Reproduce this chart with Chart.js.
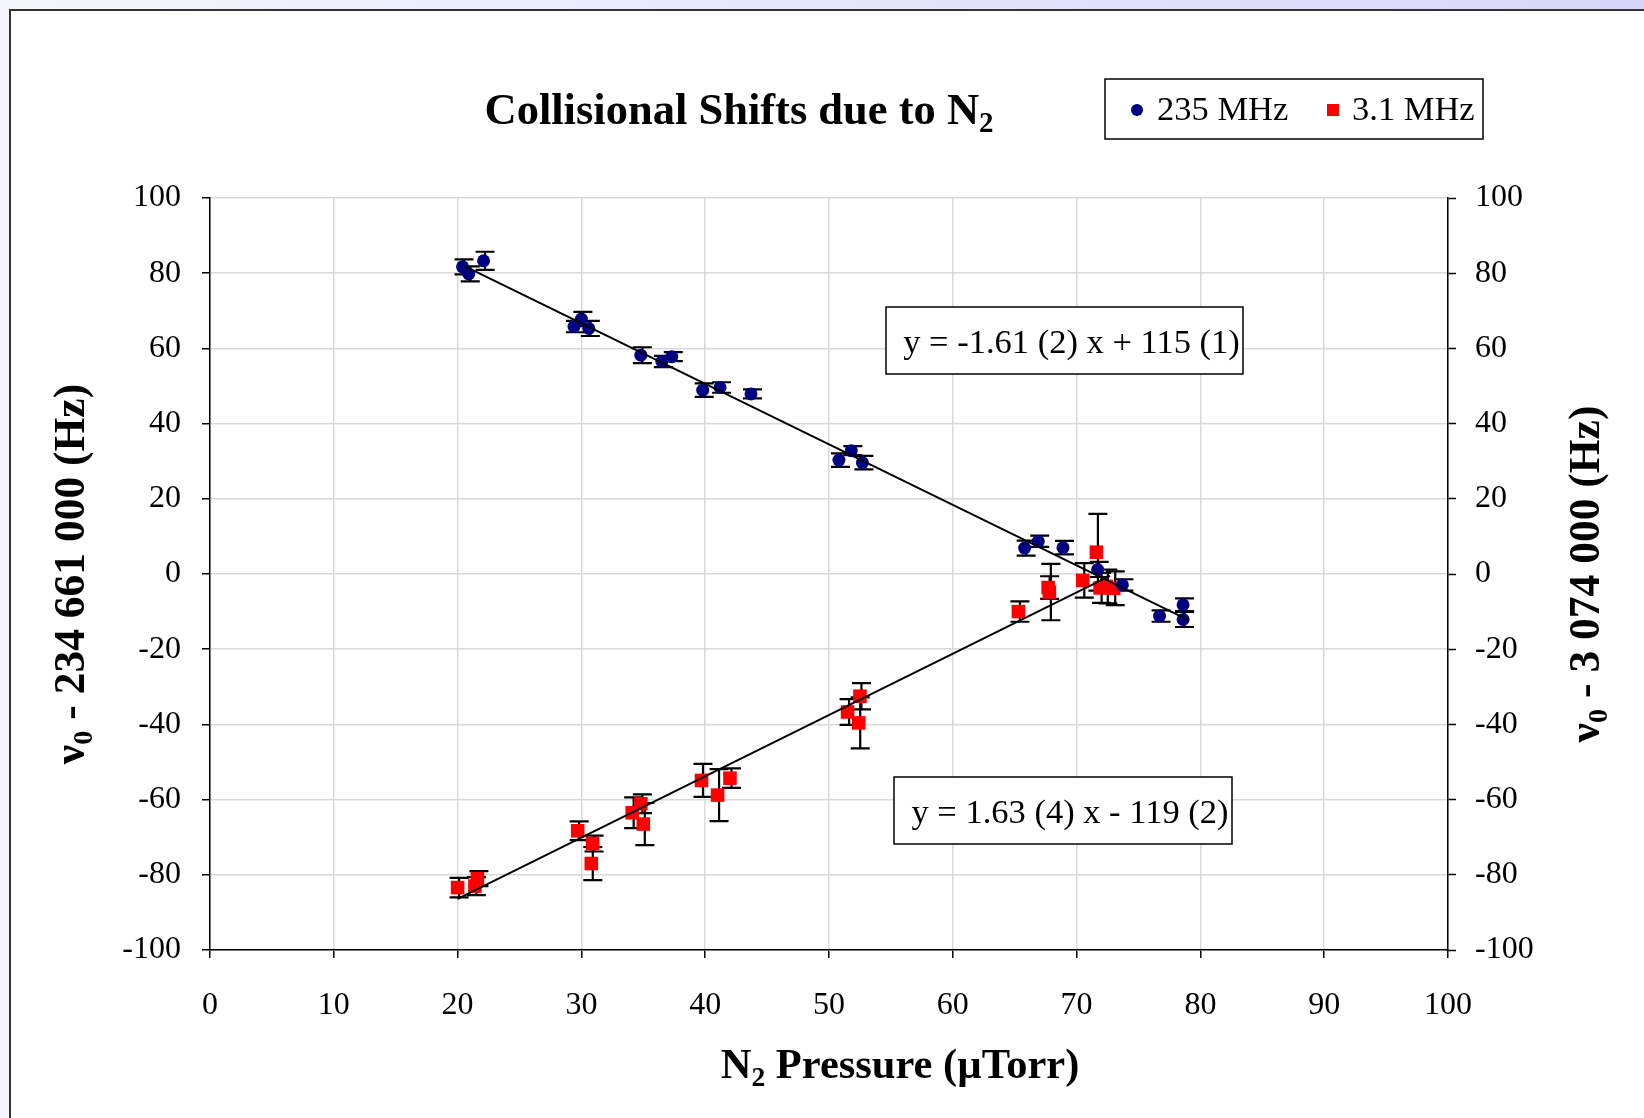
<!DOCTYPE html>
<html>
<head>
<meta charset="utf-8">
<script src="https://cdn.jsdelivr.net/npm/chart.js@4.4.0/dist/chart.umd.min.js"></script>
<style>
  html, body { margin: 0; padding: 0; overflow: hidden; background: #ffffff; }
  #c { position: absolute; left: 0; top: 0; }
</style>
</head>
<body>
<canvas id="c" width="1644" height="1118"></canvas>
<script>
// N2 pressure (µTorr) and frequency offsets (Hz) for the two transitions
const blueX   = [20.4, 20.9, 22.1, 29.4, 30.0, 30.6, 34.8, 36.5, 37.3, 39.8, 41.2, 43.7, 50.8, 51.8, 52.7, 65.8, 66.9, 68.9, 71.7, 73.7, 76.7, 78.6, 78.6];
const blueY   = [81.7, 79.8, 83.3, 65.8, 67.8, 65.3, 58.2, 56.5, 57.8, 48.9, 49.6, 47.9, 30.3, 32.8, 29.6, 6.9, 8.7, 7.0, 1.2, -2.9, -11.2, -8.2, -12.1];
const blueErr = [2.0, 2.0, 2.4, 1.5, 1.9, 2.0, 2.1, 1.5, 1.2, 1.8, 1.4, 1.2, 1.8, 1.2, 1.8, 2.0, 1.5, 1.8, 2.0, 1.5, 1.5, 1.7, 2.0];

const redX   = [20.0, 21.4, 21.6, 29.7, 30.9, 30.8, 34.1, 34.8, 35.0, 39.7, 41.0, 42.0, 51.5, 52.5, 52.4, 65.3, 67.7, 67.8, 70.5, 71.6, 71.9, 72.4, 73.0];
const redY   = [-83.4, -83.0, -81.0, -68.3, -71.7, -77.0, -63.5, -61.1, -66.5, -54.9, -58.8, -54.3, -36.7, -32.5, -39.6, -10.0, -3.6, -4.8, -1.7, 5.8, -3.7, -3.3, -3.8];
const redErr = [2.6, 2.4, 2.0, 2.5, 2.1, 4.4, 4.1, 2.5, 5.6, 4.4, 6.9, 2.6, 3.4, 3.5, 6.8, 2.7, 3.0, 7.5, 4.6, 10.2, 4.0, 4.5, 4.5];

// Linear fits: y = slope * x + intercept, drawn over the measured pressure range
const fitSlopes     = [-1.61, 1.63];
const fitIntercepts = [115, -119];
const fitFrom       = [20.6, 20.0];
const fitTo         = [79.0, 72.7];
const fitLabels     = ['y = -1.61 (2) x + 115 (1)', 'y = 1.63 (4) x - 119 (2)'];

const seriesNames = ['235 MHz', '3.1 MHz'];
const seriesColors = ['#000080', '#ff0000'];

const xTicks = [0, 10, 20, 30, 40, 50, 60, 70, 80, 90, 100];
const yTicks = [-100, -80, -60, -40, -20, 0, 20, 40, 60, 80, 100];

const SERIF = "'Liberation Serif', 'Times New Roman', serif";

const toPts = (xs, ys) => xs.map((x, i) => ({ x: x, y: ys[i] }));
const fitPts = i => [fitFrom[i], fitTo[i]].map(x => ({ x: x, y: fitSlopes[i] * x + fitIntercepts[i] }));

// Draws a run of text pieces, some of them as subscripts
function richWidth(ctx, parts, size, weight) {
  let w = 0;
  parts.forEach(p => {
    ctx.font = weight + ' ' + (p.sub ? size * 0.65 : size) + 'px ' + SERIF;
    w += ctx.measureText(p.t).width;
  });
  return w;
}
function drawRich(ctx, parts, cx, cy, size, weight) {
  const w = richWidth(ctx, parts, size, weight);
  let x = cx - w / 2;
  ctx.textAlign = 'left';
  ctx.textBaseline = 'middle';
  ctx.fillStyle = '#000';
  parts.forEach(p => {
    const s = p.sub ? size * 0.65 : size;
    ctx.font = weight + ' ' + s + 'px ' + SERIF;
    ctx.fillText(p.t, x, cy + (p.sub ? size * 0.28 : 0));
    x += ctx.measureText(p.t).width;
  });
}

const pagePlugin = {
  id: 'page',
  beforeDraw(chart) {
    const ctx = chart.ctx;
    const W = chart.width, H = chart.height;
    ctx.save();
    const g = ctx.createLinearGradient(0, 0, W, 0);
    g.addColorStop(0, '#f6f6fd');
    g.addColorStop(1, '#d6d6fa');
    ctx.fillStyle = g;
    ctx.fillRect(0, 0, W, H);
    ctx.fillStyle = '#ffffff';
    ctx.fillRect(10, 10, W - 10, H - 10);
    ctx.strokeStyle = '#333333';
    ctx.lineWidth = 2;
    ctx.beginPath();
    ctx.moveTo(10, H);
    ctx.lineTo(10, 10);
    ctx.lineTo(W, 10);
    ctx.stroke();
    ctx.restore();
  }
};

const errorBarPlugin = {
  id: 'errorBars',
  beforeDatasetsDraw(chart) {
    const ctx = chart.ctx;
    const xs = chart.scales.x, ys = chart.scales.y;
    const sets = [[blueX, blueY, blueErr], [redX, redY, redErr]];
    ctx.save();
    ctx.strokeStyle = '#000';
    ctx.lineWidth = 2.2;
    sets.forEach(([X, Y, E]) => {
      X.forEach((x, i) => {
        const px = xs.getPixelForValue(x) + 1.5;
        const top = ys.getPixelForValue(Y[i] + E[i]);
        const bot = ys.getPixelForValue(Y[i] - E[i]);
        ctx.beginPath();
        ctx.moveTo(px, top); ctx.lineTo(px, bot);
        ctx.moveTo(px - 9.5, top); ctx.lineTo(px + 9.5, top);
        ctx.moveTo(px - 9.5, bot); ctx.lineTo(px + 9.5, bot);
        ctx.stroke();
      });
    });
    ctx.restore();
  }
};

const textPlugin = {
  id: 'texts',
  afterDraw(chart) {
    const ctx = chart.ctx;
    ctx.save();
    // Title
    drawRich(ctx, [{ t: 'Collisional Shifts due to N' }, { t: '2', sub: true }], 739, 112, 44.5, 'bold');
    // X-axis title
    drawRich(ctx, [{ t: 'N' }, { t: '2', sub: true }, { t: ' Pressure (µTorr)' }], 900, 1067, 42.5, 'bold');
    // Y-axis titles, reading upward
    ctx.save();
    ctx.translate(73, 574);
    ctx.rotate(-Math.PI / 2);
    drawRich(ctx, [{ t: 'ν' }, { t: '0', sub: true }, { t: ' - 234 661 000 (Hz)' }], 0, 0, 43.5, 'bold');
    ctx.restore();
    ctx.save();
    ctx.translate(1588, 574);
    ctx.rotate(-Math.PI / 2);
    drawRich(ctx, [{ t: 'ν' }, { t: '0', sub: true }, { t: ' - 3 074 000 (Hz)' }], 0, 0, 43.5, 'bold');
    ctx.restore();

    // Legend box
    ctx.lineWidth = 1.5;
    ctx.strokeStyle = '#000';
    ctx.fillStyle = '#fff';
    ctx.fillRect(1105, 79, 378, 60);
    ctx.strokeRect(1105, 79, 378, 60);
    ctx.fillStyle = seriesColors[0];
    ctx.beginPath(); ctx.arc(1137, 110, 6, 0, Math.PI * 2); ctx.fill();
    ctx.fillStyle = seriesColors[1];
    ctx.fillRect(1327, 104, 12, 12);
    ctx.fillStyle = '#000';
    ctx.font = '34.5px ' + SERIF;
    ctx.textAlign = 'left';
    ctx.textBaseline = 'middle';
    ctx.fillText(seriesNames[0], 1157, 111);
    ctx.fillText(seriesNames[1], 1352, 111);

    // Fit equation boxes
    const boxes = [[886, 307, 357, 67], [894, 777, 338, 67]];
    boxes.forEach((b, i) => {
      ctx.fillStyle = '#fff';
      ctx.fillRect(b[0], b[1], b[2], b[3]);
      ctx.strokeRect(b[0], b[1], b[2], b[3]);
      ctx.fillStyle = '#000';
      ctx.font = '34.5px ' + SERIF;
      ctx.textAlign = 'center';
      ctx.fillText(fitLabels[i], b[0] + b[2] / 2 + 7, b[1] + b[3] / 2 + 3);
    });
    ctx.restore();
  }
};

const tickFont = { family: SERIF, size: 32 };
const gridColor = '#d9d9d9';

new Chart(document.getElementById('c'), {
  type: 'scatter',
  data: {
    datasets: [
      { label: seriesNames[0], data: toPts(blueX, blueY), pointStyle: 'circle', pointRadius: 6.5,
        backgroundColor: seriesColors[0], borderColor: seriesColors[0], borderWidth: 0, order: 2 },
      { label: seriesNames[1], data: toPts(redX, redY), pointStyle: 'rect', pointRadius: 9.6,
        backgroundColor: seriesColors[1], borderColor: seriesColors[1], borderWidth: 0, order: 2 },
      { type: 'line', data: fitPts(0), borderColor: '#000', borderWidth: 2, pointRadius: 0, fill: false, order: 1 },
      { type: 'line', data: fitPts(1), borderColor: '#000', borderWidth: 2, pointRadius: 0, fill: false, order: 1 }
    ]
  },
  options: {
    responsive: false,
    animation: false,
    devicePixelRatio: 1,
    layout: { padding: { left: 0, right: 0, top: 198, bottom: 0 } },
    plugins: { legend: { display: false }, title: { display: false }, tooltip: { enabled: false } },
    scales: {
      x: {
        type: 'linear', position: 'bottom', min: 0, max: 100,
        afterBuildTicks: s => { s.ticks = xTicks.map(v => ({ value: v })); },
        ticks: { font: tickFont, color: '#000', padding: 28, maxRotation: 0 },
        grid: { color: gridColor, lineWidth: 1.5, tickColor: '#000', tickLength: 8, tickWidth: 1.5 },
        border: { color: '#000', width: 1.5 },
        afterFit: s => { s.height = 168; }
      },
      y: {
        type: 'linear', position: 'left', min: -100, max: 100,
        afterBuildTicks: s => { s.ticks = yTicks.map(v => ({ value: v })); },
        ticks: { font: tickFont, color: '#000', padding: 21 },
        grid: { color: gridColor, lineWidth: 1.5, tickColor: '#000', tickLength: 8, tickWidth: 1.5 },
        border: { color: '#000', width: 1.5 },
        afterFit: s => { s.width = 210; }
      },
      y2: {
        type: 'linear', position: 'right', min: -100, max: 100,
        afterBuildTicks: s => { s.ticks = yTicks.map(v => ({ value: v })); },
        ticks: { font: tickFont, color: '#000', padding: 19 },
        grid: { drawOnChartArea: false, tickColor: '#000', tickLength: 8, tickWidth: 1.5 },
        border: { color: '#000', width: 1.5 },
        afterFit: s => { s.width = 196; }
      }
    }
  },
  plugins: [pagePlugin, errorBarPlugin, textPlugin]
});
</script>
</body>
</html>
